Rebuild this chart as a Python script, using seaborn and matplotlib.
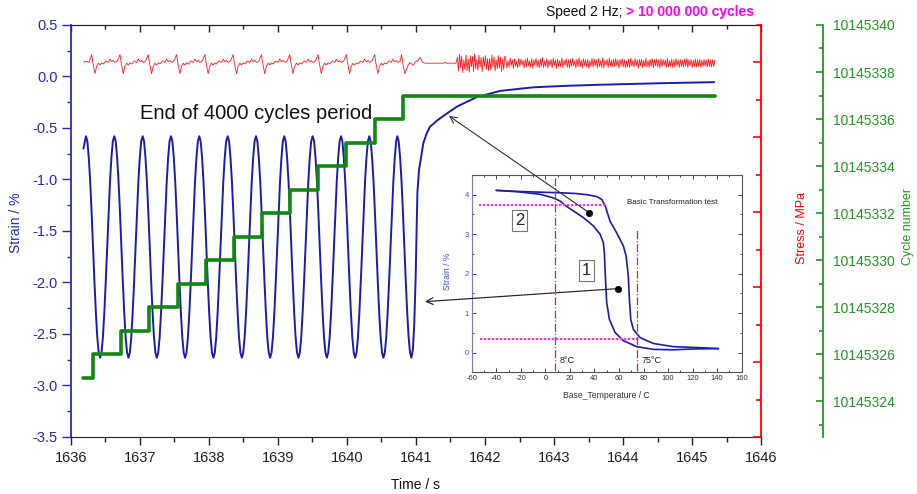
import numpy as np
import matplotlib
matplotlib.use('Agg')
import matplotlib.pyplot as plt
from matplotlib.ticker import MultipleLocator
import seaborn as sns

# --- strain (blue): one cycle shape, placed at each peak ---
peak_times = [1636.217, 1636.628, 1637.039, 1637.449, 1637.859, 1638.271,
              1638.681, 1639.091, 1639.503, 1639.913, 1640.323, 1640.729]
cycle_period = 0.41
cycle_phase = [0.0, 0.05, 0.10, 0.15, 0.20, 0.25, 0.30, 0.35, 0.40, 0.45,
               0.50, 0.55, 0.60, 0.65, 0.70, 0.75, 0.80, 0.85, 0.90, 0.95]
cycle_strain = [-0.58, -0.63, -0.79, -1.02, -1.32, -1.66, -1.99, -2.29, -2.53, -2.68,
                -2.73, -2.68, -2.53, -2.29, -1.99, -1.66, -1.32, -1.02, -0.79, -0.63]
strain_lead_time = [1636.18]
strain_lead = [-0.70]
recovery_time = [1640.955, 1640.975, 1640.995, 1641.01, 1641.02, 1641.045, 1641.07,
                 1641.105, 1641.15, 1641.20, 1641.30, 1641.445, 1641.60, 1641.88,
                 1642.22, 1642.70, 1643.20, 1643.67, 1644.50, 1645.32]
recovery_strain = [-2.65, -2.40, -1.95, -1.45, -1.13, -0.90, -0.80,
                   -0.65, -0.56, -0.49, -0.43, -0.36, -0.29, -0.20,
                   -0.14, -0.105, -0.09, -0.08, -0.066, -0.055]

# --- stress (red) ---
red_spike_times = [1636.30, 1636.71, 1637.12, 1637.53, 1637.94, 1638.35,
                   1638.76, 1639.17, 1639.58, 1639.99, 1640.40, 1640.79]
red_offsets = [0.0, 0.017, 0.048, 0.072, 0.097, 0.120, 0.145, 0.170,
               0.207, 0.242, 0.265, 0.290, 0.314, 0.338, 0.372]
red_shape = [102.1, 100.0, 97.0, 99.0, 99.8, 99.3, 99.9, 99.6,
             100.4, 100.0, 100.9, 100.2, 100.5, 100.0, 100.4]
stress_lead_time = [1636.18, 1636.22, 1636.26]
stress_lead = [100.1, 100.3, 100.0]
stress_tail_time = [1640.888, 1640.91, 1640.938, 1640.96, 1640.986, 1641.033, 1641.058,
                    1641.097, 1641.13, 1641.40, 1641.42, 1641.44, 1641.58]
stress_tail = [99.3, 100.0, 99.6, 99.2, 100.1, 100.6, 101.3,
               100.0, 99.8, 99.8, 100.1, 99.8, 99.8]
noise_base = 99.8
stress_noise = [1.6, -2.1, 2.4, -1.2, 1.9, -2.5, 0.8, -1.7, 2.2, -2.0, 1.1, -2.4, 2.0, -0.9, 1.8,
                -2.2, 2.5, -1.5, 0.9, -1.9, 2.1, -1.1, 1.5, -2.3, 1.7, -0.8, 2.0, -1.6, 1.2, -2.0,
                1.3, -1.8, 2.2, -1.0, 1.7, -2.1, 0.9, -1.5, 2.0, -1.3, 1.6, -2.2, 1.1, -1.7, 1.9,
                1.0, -1.3, 0.7, -1.1, 1.4, -0.6, 0.9, -1.4, 1.2, -0.8, 0.5, -1.2, 1.3, -0.9, 1.1,
                -0.5, 0.8, -1.3, 1.0, -1.0, 1.4, -0.7, 0.6, -1.1, 1.2, -1.4, 0.9, -0.6, 1.3, -1.0,
                0.7, -1.2, 1.1, -0.8, 1.5, -1.1, 0.6, -0.9, 1.2, -1.3, 0.8, -0.7, 1.0, -1.2, 1.3,
                -0.6, 0.9, -1.4, 1.1, -0.9, 0.7, -1.0, 1.4, -1.2, 0.8, -0.5, 1.2, -1.1, 0.9, -1.3,
                1.0, -0.8, 1.3, -0.7, 0.6, -1.2, 1.1, -1.0, 1.4, -0.9, 0.8, -1.3, 1.2, -0.6, 0.9,
                -1.1, 1.0, -1.4, 0.7, -0.8, 1.3, -1.0, 1.1, -0.7, 0.9, -1.2, 1.2, -0.9, 0.6, -1.1,
                1.4, -1.3, 0.8, -0.6, 1.0, -1.2, 1.3, -0.8, 0.7, -1.0, 1.1, -0.9, 1.2, -0.6, 0.8,
                -1.3, 1.0, -0.7, 1.2, -1.0, 0.9, -1.2, 0.6, -0.9, 1.1, -1.1, 1.3, -0.8, 0.7, -1.0,
                1.2, -0.7, 0.9, -1.3, 1.0, -0.6, 1.1, -1.2, 0.8, -0.9, 1.3, -1.0, 0.7, -1.1, 1.0,
                -0.8, 1.2, -1.2, 0.9, -0.7, 1.1, -1.0, 0.8, -1.3, 1.2, -0.9, 1.0, -0.6, 0.9, -1.1,
                1.3, -1.0, 0.7, -0.8, 1.1, -1.2, 0.9, -1.0, 1.2, -0.7, 0.8, -1.1, 1.0, -0.9, 0.7,
                -1.0, 1.1, -0.8, 1.2, -1.1, 0.9, -0.7, 1.0, -1.2, 0.8, -0.9, 1.1, -1.0, 0.9, -0.8,
                1.0, -1.1, 0.8, -0.9, 1.0, -0.8, 0.9, -1.0, 1.1, -0.9, 0.8, -1.0, 0.9, -0.9, 0.8]
noise_start, noise_end = 1641.60, 1645.33

# --- cycle number (green) ---
step_times = [1636.18, 1636.315, 1636.72, 1637.13, 1637.55, 1637.96, 1638.36,
              1638.77, 1639.17, 1639.58, 1639.99, 1640.41, 1640.81, 1645.33]
step_cycles = [10145325, 10145326, 10145327, 10145328, 10145329, 10145330, 10145331,
               10145332, 10145333, 10145334, 10145335, 10145336, 10145337, 10145337]

# --- inset: basic transformation test ---
upper_temp = [-40, -20, 0, 12, 25, 34, 42, 46, 49, 52.7, 58, 63.6, 65.8, 67.6, 68.5,
              69.6, 71.7, 77.2, 88, 104.3, 128.8, 141]
upper_strain = [4.11, 4.08, 4.06, 4.05, 4.03, 4.0, 3.95, 3.88, 3.70, 3.33, 3.04, 2.70,
                2.45, 1.94, 1.35, 0.84, 0.59, 0.38, 0.23, 0.15, 0.12, 0.10]
lower_temp = [-40, -20.6, -4.3, 6.5, 12, 17.4, 22.8, 31, 39.1, 44.6, 47.3, 48.1, 48.9,
              50, 52.2, 56.8, 63.6, 74.5, 88, 104.3, 120.6, 141]
lower_strain = [4.11, 4.07, 4.01, 3.92, 3.84, 3.70, 3.59, 3.42, 3.21, 3.0, 2.78, 2.53,
                1.94, 1.27, 0.84, 0.51, 0.30, 0.15, 0.08, 0.07, 0.09, 0.10]
mag_levels = [3.73, 0.34]
mag_start = [-53.8, -53.2]
mag_end = [50, 77.2]
vline_temps = [8, 75]
vline_top = [4.43, 3.12]
vline_bottom = -0.46
dot_temp = [35.9, 59]
dot_strain = [3.54, 1.62]

BLUE = '#1c1cb0'
AXBLUE = '#2a2ac8'
RED = '#ff2020'
GREEN = '#118811'
AXGREEN = '#229922'
MAGENTA = '#ff33ff'

sns.set_style('ticks')
plt.rcParams['font.family'] = ['Liberation Sans', 'DejaVu Sans']
plt.rcParams['axes.unicode_minus'] = False

# build the series
strain_x = list(strain_lead_time)
strain_y = list(strain_lead)
for i, p in enumerate(peak_times):
    n = len(cycle_phase) if i < len(peak_times) - 1 else 11
    for f, v in zip(cycle_phase[:n], cycle_strain[:n]):
        strain_x.append(p + f * cycle_period)
        strain_y.append(v)
strain_x += recovery_time
strain_y += recovery_strain

stress_x = list(stress_lead_time)
stress_y = list(stress_lead)
for i, s in enumerate(red_spike_times):
    n = len(red_offsets) if i < len(red_spike_times) - 1 else 3
    for o, v in zip(red_offsets[:n], red_shape[:n]):
        stress_x.append(s + o)
        stress_y.append(v)
stress_x += stress_tail_time
stress_y += stress_tail
stress_x += list(np.linspace(noise_start, noise_end, len(stress_noise)))
stress_y += [noise_base + d for d in stress_noise]

fig = plt.figure(figsize=(9.17, 4.94), dpi=100)
ax = fig.add_axes([0.0774, 0.1154, 0.7525, 0.834])
ax2 = ax.twinx()
ax3 = ax.twinx()

sns.lineplot(x=strain_x, y=strain_y, ax=ax, color=BLUE, lw=1.4, estimator=None, sort=False)
sns.lineplot(x=stress_x, y=stress_y, ax=ax2, color=RED, lw=0.6, estimator=None, sort=False)
sns.lineplot(x=step_times, y=step_cycles, ax=ax3, color=GREEN, lw=2.6, estimator=None,
             sort=False, drawstyle='steps-post')

ax.text(1637.0, -0.355, 'End of 4000 cycles period', fontsize=14.5, va='center', ha='left',
        color='#111111')

# main axes
ax.set_xlim(1636, 1646)
ax.set_ylim(-3.5, 0.5)
ax.xaxis.set_major_locator(MultipleLocator(1))
ax.xaxis.set_minor_locator(MultipleLocator(0.5))
ax.yaxis.set_major_locator(MultipleLocator(0.5))
ax.yaxis.set_minor_locator(MultipleLocator(0.25))
ax.tick_params(axis='x', which='both', direction='out', top=False, color='#222222',
               labelcolor='#222222', labelsize=10.5, pad=4)
ax.tick_params(axis='x', which='major', length=6, width=1)
ax.tick_params(axis='x', which='minor', length=3.5, width=1)
ax.tick_params(axis='y', which='both', direction='out', right=False, color=AXBLUE,
               labelcolor=AXBLUE, labelsize=10.5, pad=3)
ax.tick_params(axis='y', which='major', length=6.5, width=1)
ax.tick_params(axis='y', which='minor', length=3.2, width=1)
ax.spines['right'].set_visible(False)
ax.spines['left'].set_color(AXBLUE)
ax.spines['left'].set_linewidth(1.3)
ax.spines['bottom'].set_color('#222222')
ax.spines['top'].set_color('#222222')
ax.set_xlabel('Time / s', fontsize=10, color='#111111')
ax.xaxis.set_label_coords(0.4986, -0.0995)
ax.set_ylabel('Strain / %', fontsize=10, color=AXBLUE)
ax.yaxis.set_label_coords(-0.0696, 0.52)

top = ax.secondary_xaxis('top')
top.xaxis.set_major_locator(MultipleLocator(1))
top.xaxis.set_minor_locator(MultipleLocator(0.5))
top.tick_params(axis='x', which='both', direction='in', labeltop=False, labelbottom=False,
                color='#222222')
top.tick_params(axis='x', which='major', length=5, width=1)
top.tick_params(axis='x', which='minor', length=3, width=1)
top.spines['top'].set_color('#222222')

# stress axis (no labels)
ax2.set_ylim(0, 110)
ax2.yaxis.set_major_locator(MultipleLocator(20))
ax2.yaxis.set_minor_locator(MultipleLocator(10))
ax2.tick_params(axis='y', which='both', direction='in', color='red', labelright=False)
ax2.tick_params(axis='y', which='major', length=6, width=1.2)
ax2.tick_params(axis='y', which='minor', length=3.5, width=1.2)
for side in ['left', 'top', 'bottom']:
    ax2.spines[side].set_visible(False)
ax2.spines['right'].set_color('red')
ax2.spines['right'].set_linewidth(1.3)
ax2.set_ylabel('Stress / MPa', fontsize=9, color='red')
ax2.yaxis.set_label_coords(1.0507, 0.507)

# cycle number axis, spine 62 px right of the plot
ax3.set_ylim(10145322.47, 10145340)
ax3.yaxis.set_major_locator(MultipleLocator(2))
ax3.yaxis.set_minor_locator(MultipleLocator(1))
ax3.ticklabel_format(axis='y', useOffset=False, style='plain')
ax3.tick_params(axis='y', which='both', direction='in', color=AXGREEN, labelcolor=AXGREEN,
                labelsize=10, pad=7)
ax3.tick_params(axis='y', which='major', length=5.3, width=1.2)
ax3.tick_params(axis='y', which='minor', length=3, width=1.2)
for side in ['left', 'top', 'bottom']:
    ax3.spines[side].set_visible(False)
ax3.spines['right'].set_position(('outward', 62 * 72 / 100))
ax3.spines['right'].set_color(AXGREEN)
ax3.spines['right'].set_linewidth(1.3)
ax3.set_ylabel('Cycle number', fontsize=9, color=AXGREEN)
ax3.yaxis.set_label_coords(1.2043, 0.51)

# title
t2 = fig.text(0.8225, 0.962, '> 10 000 000 cycles', color='#ff00ff', fontweight='bold',
              ha='right', va='bottom', fontsize=10)
ax.annotate('Speed 2 Hz; ', xy=(0, 0), xycoords=t2, ha='right', va='bottom', fontsize=10,
            color='#111111', annotation_clip=False)

# inset
ins = fig.add_axes([0.5144, 0.2464, 0.2944, 0.3994])
ins.set_facecolor('white')
sns.lineplot(x=upper_temp, y=upper_strain, ax=ins, color=BLUE, lw=1.2, estimator=None, sort=False)
sns.lineplot(x=lower_temp, y=lower_strain, ax=ins, color=BLUE, lw=1.2, estimator=None, sort=False)
for lvl, x0, x1 in zip(mag_levels, mag_start, mag_end):
    ins.plot([x0, x1], [lvl, lvl], color=MAGENTA, lw=1.6, ls=(0, (1, 0.8)))
for tv, ytop in zip(vline_temps, vline_top):
    ins.plot([tv, tv], [vline_bottom, ytop], color='#ee2222', lw=0.9, ls='-.')
sns.scatterplot(x=dot_temp, y=dot_strain, ax=ins, color='black', s=22, edgecolor='black',
                zorder=5)
ins.text(11.4, -0.21, '8°C', fontsize=6.5, va='center', ha='left', color='#222222')
ins.text(78.5, -0.21, '75°C', fontsize=6.5, va='center', ha='left', color='#222222')
ins.text(66.3, 3.8, 'Basic Transformation test', fontsize=5.8, va='center', ha='left',
         color='#222222')
box = dict(boxstyle='square,pad=0.18', fc='white', ec='#777777', lw=0.8)
ins.text(-21, 3.35, '2', fontsize=12, ha='center', va='center', bbox=box)
ins.text(33.7, 2.07, '1', fontsize=12, ha='center', va='center', bbox=box)

ins.set_xlim(-60, 160)
ins.set_ylim(-0.5, 4.5)
ins.xaxis.set_major_locator(MultipleLocator(20))
ins.xaxis.set_minor_locator(MultipleLocator(10))
ins.yaxis.set_major_locator(MultipleLocator(1))
ins.yaxis.set_minor_locator(MultipleLocator(0.5))
ins.tick_params(which='both', direction='in', top=True, right=True, labelsize=5.5, pad=2,
                color='#444444', width=0.7)
ins.tick_params(which='major', length=3)
ins.tick_params(which='minor', length=1.6)
ins.tick_params(axis='y', labelcolor='#4a4ad0')
ins.tick_params(axis='x', labelcolor='#333333')
for side in ['top', 'right', 'bottom']:
    ins.spines[side].set_color('#555555')
    ins.spines[side].set_linewidth(0.8)
ins.spines['left'].set_color('#7777cc')
ins.spines['left'].set_linewidth(0.8)
ins.set_xlabel('Base_Temperature / C', fontsize=6.2, color='#333333')
ins.xaxis.set_label_coords(0.5, -0.095)
ins.set_ylabel('Strain / %', fontsize=6.2, color='#4a4ad0')
ins.yaxis.set_label_coords(-0.073, 0.51)

# arrows from the inset points to the main curve
ins.annotate('', xy=(1641.478, -0.383), xycoords=ax.transData, xytext=(35.9, 3.54),
             textcoords='data', annotation_clip=False,
             arrowprops=dict(arrowstyle='->', color='#333333', lw=0.8, shrinkA=0, shrinkB=0,
                             mutation_scale=12))
ins.annotate('', xy=(1641.13, -2.186), xycoords=ax.transData, xytext=(59, 1.62),
             textcoords='data', annotation_clip=False,
             arrowprops=dict(arrowstyle='->', color='#222222', lw=0.9, shrinkA=0, shrinkB=0,
                             mutation_scale=12, linestyle=(0, (1.5, 0.8))))

fig.savefig('out.png', dpi=100)
plt.close(fig)
